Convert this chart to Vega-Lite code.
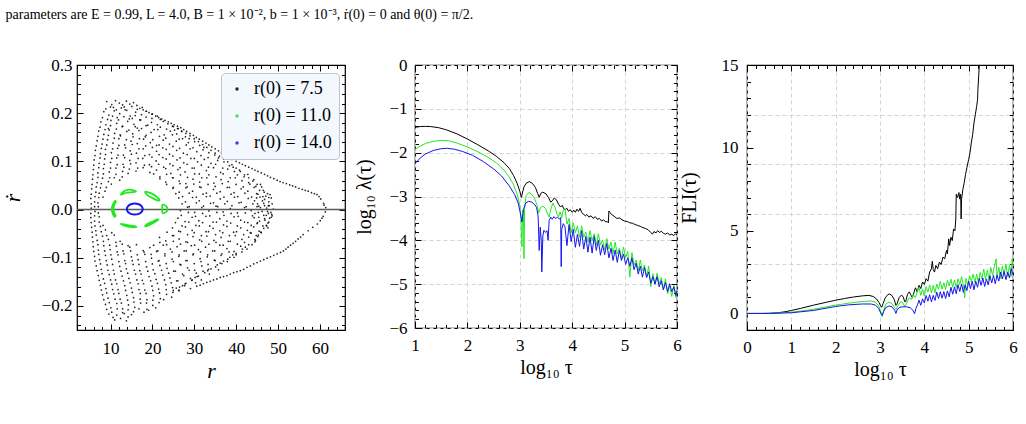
{
  "$schema": "https://vega.github.io/schema/vega-lite/v6.json",
  "padding": {"left": 0, "top": 8, "right": 0, "bottom": 0},
  "title": {
    "text": "parameters are E = 0.99, L = 4.0, B = 1 × 10⁻², b = 1 × 10⁻³, ṙ(0) = 0 and θ(0) = π/2.",
    "anchor": "start",
    "font": "Liberation Serif",
    "fontSize": 14,
    "fontWeight": "normal",
    "color": "black",
    "offset": 33,
    "dx": 5
  },
  "config": {
    "view": {"stroke": "black", "strokeWidth": 1.2},
    "font": "Liberation Serif",
    "axis": {
      "domain": false,
      "grid": false,
      "labelFont": "Liberation Serif",
      "labelFontSize": 17,
      "labelColor": "black",
      "labelFlush": false,
      "labelOverlap": false,
      "titleFont": "Liberation Serif",
      "titleFontSize": 20,
      "titleFontWeight": "normal",
      "titleColor": "black",
      "tickColor": "black",
      "tickWidth": 1,
      "gridColor": "#d4d4d4",
      "gridDash": [4, 3],
      "gridWidth": 1
    }
  },
  "datasets": {
    "sea": [
      {"r":9.1,"v":0.224},{"r":10.3,"v":0.218},{"r":11.2,"v":0.226},{"r":12.1,"v":0.221},{"r":12.9,"v":0.217},{"r":13.8,"v":0.225},{"r":14.6,"v":0.219},{"r":15.5,"v":0.222},{"r":16.3,"v":0.216},{"r":10.7,"v":0.212},{"r":13.3,"v":0.213},
      {"r":8.9,"v":0.209},{"r":10.0,"v":0.213},{"r":11.4,"v":0.207},{"r":12.6,"v":0.211},{"r":13.9,"v":0.206},{"r":15.1,"v":0.214},{"r":16.4,"v":0.208},{"r":17.6,"v":0.212},
      {"r":8.4,"v":0.203},{"r":9.6,"v":0.196},{"r":10.9,"v":0.205},{"r":12.2,"v":0.199},{"r":13.5,"v":0.207},{"r":14.7,"v":0.194},{"r":16.0,"v":0.202},{"r":17.4,"v":0.197},{"r":18.6,"v":0.204},{"r":19.9,"v":0.198},{"r":11.6,"v":0.191},{"r":15.2,"v":0.189},
      {"r":8.1,"v":0.191},{"r":9.3,"v":0.187},{"r":10.5,"v":0.194},{"r":11.9,"v":0.186},{"r":13.2,"v":0.193},{"r":14.5,"v":0.188},{"r":15.9,"v":0.195},{"r":17.2,"v":0.186},{"r":18.5,"v":0.192},{"r":19.9,"v":0.189},{"r":21.2,"v":0.194},{"r":21.9,"v":0.187},
      {"r":7.7,"v":0.182},{"r":8.9,"v":0.176},{"r":10.1,"v":0.185},{"r":11.5,"v":0.179},{"r":12.8,"v":0.172},{"r":14.1,"v":0.183},{"r":15.6,"v":0.177},{"r":17.0,"v":0.186},{"r":18.5,"v":0.174},{"r":19.8,"v":0.181},{"r":21.2,"v":0.176},{"r":22.6,"v":0.183},{"r":23.7,"v":0.178},{"r":9.5,"v":0.168},{"r":16.4,"v":0.169},
      {"r":7.5,"v":0.171},{"r":8.7,"v":0.166},{"r":10.0,"v":0.174},{"r":11.4,"v":0.167},{"r":12.9,"v":0.173},{"r":14.4,"v":0.165},{"r":15.9,"v":0.172},{"r":17.4,"v":0.168},{"r":18.9,"v":0.175},{"r":20.4,"v":0.166},{"r":21.9,"v":0.171},{"r":23.4,"v":0.167},{"r":24.8,"v":0.173},{"r":25.3,"v":0.165},
      {"r":7.2,"v":0.163},{"r":8.4,"v":0.156},{"r":9.7,"v":0.165},{"r":11.0,"v":0.158},{"r":12.4,"v":0.153},{"r":13.9,"v":0.162},{"r":15.3,"v":0.157},{"r":16.8,"v":0.164},{"r":18.3,"v":0.151},{"r":19.7,"v":0.16},{"r":21.3,"v":0.166},{"r":22.8,"v":0.155},{"r":24.3,"v":0.163},{"r":25.8,"v":0.157},{"r":27.0,"v":0.162},{"r":26.2,"v":0.168},
      {"r":7.0,"v":0.152},{"r":8.2,"v":0.146},{"r":9.5,"v":0.154},{"r":10.9,"v":0.148},{"r":12.3,"v":0.155},{"r":13.8,"v":0.145},{"r":15.4,"v":0.151},{"r":16.9,"v":0.147},{"r":18.5,"v":0.154},{"r":20.1,"v":0.145},{"r":21.7,"v":0.152},{"r":23.2,"v":0.148},{"r":24.8,"v":0.155},{"r":26.4,"v":0.146},{"r":27.9,"v":0.151},{"r":28.8,"v":0.147},
      {"r":6.8,"v":0.143},{"r":8.0,"v":0.136},{"r":9.3,"v":0.145},{"r":10.6,"v":0.138},{"r":12.0,"v":0.147},{"r":13.4,"v":0.134},{"r":14.9,"v":0.142},{"r":16.4,"v":0.137},{"r":17.9,"v":0.146},{"r":19.5,"v":0.139},{"r":21.0,"v":0.133},{"r":22.6,"v":0.144},{"r":24.1,"v":0.136},{"r":25.7,"v":0.142},{"r":27.2,"v":0.147},{"r":28.6,"v":0.139},{"r":30.1,"v":0.141},
      {"r":6.6,"v":0.132},{"r":7.8,"v":0.127},{"r":9.1,"v":0.134},{"r":10.5,"v":0.126},{"r":12.0,"v":0.133},{"r":13.6,"v":0.128},{"r":15.2,"v":0.135},{"r":16.8,"v":0.126},{"r":18.4,"v":0.132},{"r":20.0,"v":0.129},{"r":21.6,"v":0.134},{"r":23.3,"v":0.125},{"r":24.9,"v":0.131},{"r":26.5,"v":0.127},{"r":28.1,"v":0.134},{"r":29.7,"v":0.128},{"r":31.3,"v":0.133},{"r":32.3,"v":0.129},
      {"r":6.4,"v":0.123},{"r":7.6,"v":0.116},{"r":8.8,"v":0.125},{"r":10.2,"v":0.118},{"r":11.7,"v":0.127},{"r":13.1,"v":0.113},{"r":14.7,"v":0.122},{"r":16.2,"v":0.117},{"r":17.8,"v":0.126},{"r":19.3,"v":0.114},{"r":21.0,"v":0.121},{"r":22.5,"v":0.128},{"r":24.1,"v":0.115},{"r":25.8,"v":0.123},{"r":27.4,"v":0.117},{"r":29.0,"v":0.126},{"r":30.6,"v":0.12},{"r":32.1,"v":0.124},{"r":33.5,"v":0.118},
      {"r":6.3,"v":0.112},{"r":7.5,"v":0.107},{"r":8.8,"v":0.114},{"r":10.3,"v":0.106},{"r":11.8,"v":0.113},{"r":13.4,"v":0.108},{"r":15.0,"v":0.115},{"r":16.6,"v":0.106},{"r":18.2,"v":0.112},{"r":19.9,"v":0.109},{"r":21.6,"v":0.114},{"r":23.3,"v":0.105},{"r":24.9,"v":0.111},{"r":26.6,"v":0.107},{"r":28.3,"v":0.114},{"r":30.0,"v":0.106},{"r":31.6,"v":0.112},{"r":33.3,"v":0.108},{"r":34.9,"v":0.113},{"r":35.8,"v":0.107},
      {"r":6.1,"v":0.103},{"r":7.3,"v":0.096},{"r":8.6,"v":0.105},{"r":10.0,"v":0.098},{"r":11.5,"v":0.107},{"r":13.0,"v":0.094},{"r":14.6,"v":0.102},{"r":16.1,"v":0.097},{"r":17.7,"v":0.106},{"r":19.3,"v":0.093},{"r":20.9,"v":0.101},{"r":22.5,"v":0.108},{"r":24.2,"v":0.095},{"r":25.9,"v":0.103},{"r":27.5,"v":0.097},{"r":29.2,"v":0.106},{"r":30.8,"v":0.099},{"r":32.4,"v":0.104},{"r":34.0,"v":0.096},{"r":35.6,"v":0.102},{"r":37.1,"v":0.099},
      {"r":6.0,"v":0.092},{"r":7.2,"v":0.087},{"r":8.5,"v":0.094},{"r":10.0,"v":0.086},{"r":11.6,"v":0.093},{"r":13.2,"v":0.088},{"r":14.8,"v":0.095},{"r":16.5,"v":0.086},{"r":18.1,"v":0.092},{"r":19.8,"v":0.089},{"r":21.5,"v":0.094},{"r":23.2,"v":0.085},{"r":24.9,"v":0.091},{"r":26.6,"v":0.087},{"r":28.3,"v":0.094},{"r":30.0,"v":0.086},{"r":31.7,"v":0.092},{"r":33.4,"v":0.088},{"r":35.1,"v":0.094},{"r":36.8,"v":0.086},{"r":38.4,"v":0.091},{"r":39.3,"v":0.088},
      {"r":5.9,"v":0.083},{"r":7.0,"v":0.076},{"r":8.3,"v":0.085},{"r":9.7,"v":0.078},{"r":11.3,"v":0.086},{"r":12.9,"v":0.079},{"r":14.5,"v":0.084},{"r":16.1,"v":0.08},{"r":17.8,"v":0.087},{"r":19.4,"v":0.077},{"r":21.0,"v":0.082},{"r":22.7,"v":0.088},{"r":24.4,"v":0.075},{"r":26.1,"v":0.083},{"r":27.8,"v":0.078},{"r":29.5,"v":0.086},{"r":31.2,"v":0.074},{"r":32.9,"v":0.081},{"r":34.6,"v":0.087},{"r":36.3,"v":0.077},{"r":38.0,"v":0.084},{"r":39.6,"v":0.079},{"r":40.8,"v":0.082},
      {"r":5.8,"v":0.072},{"r":7.0,"v":0.067},{"r":8.3,"v":0.074},{"r":9.8,"v":0.066},{"r":11.3,"v":0.073},{"r":12.8,"v":0.068},{"r":14.2,"v":0.075},{"r":20.3,"v":0.074},{"r":21.8,"v":0.068},{"r":23.4,"v":0.073},{"r":25.0,"v":0.066},{"r":26.7,"v":0.072},{"r":28.4,"v":0.067},{"r":30.1,"v":0.074},{"r":31.8,"v":0.066},{"r":33.5,"v":0.072},{"r":35.2,"v":0.068},{"r":36.9,"v":0.074},{"r":38.6,"v":0.066},{"r":40.3,"v":0.072},{"r":41.9,"v":0.068},{"r":42.8,"v":0.073},
      {"r":5.7,"v":0.063},{"r":6.8,"v":0.056},{"r":8.1,"v":0.065},{"r":9.5,"v":0.058},{"r":10.9,"v":0.066},{"r":12.2,"v":0.061},{"r":21.8,"v":0.064},{"r":23.2,"v":0.057},{"r":24.8,"v":0.066},{"r":26.4,"v":0.059},{"r":28.0,"v":0.054},{"r":29.7,"v":0.063},{"r":31.3,"v":0.057},{"r":33.0,"v":0.066},{"r":34.7,"v":0.055},{"r":36.4,"v":0.062},{"r":38.1,"v":0.058},{"r":39.8,"v":0.066},{"r":41.4,"v":0.06},{"r":43.0,"v":0.056},{"r":44.2,"v":0.062},
      {"r":5.6,"v":0.052},{"r":6.6,"v":0.047},{"r":7.8,"v":0.054},{"r":9.0,"v":0.046},{"r":10.2,"v":0.053},{"r":23.4,"v":0.052},{"r":25.0,"v":0.046},{"r":26.6,"v":0.054},{"r":28.3,"v":0.047},{"r":29.9,"v":0.053},{"r":31.6,"v":0.046},{"r":33.3,"v":0.052},{"r":35.0,"v":0.048},{"r":36.7,"v":0.054},{"r":38.4,"v":0.046},{"r":40.0,"v":0.052},{"r":41.7,"v":0.047},{"r":43.3,"v":0.053},{"r":44.7,"v":0.048},{"r":45.8,"v":0.052},
      {"r":5.5,"v":0.043},{"r":6.5,"v":0.036},{"r":7.6,"v":0.045},{"r":8.7,"v":0.038},{"r":24.9,"v":0.044},{"r":26.4,"v":0.036},{"r":28.0,"v":0.045},{"r":29.6,"v":0.038},{"r":31.3,"v":0.047},{"r":32.9,"v":0.034},{"r":34.6,"v":0.042},{"r":36.2,"v":0.037},{"r":37.9,"v":0.046},{"r":39.5,"v":0.035},{"r":41.2,"v":0.043},{"r":42.8,"v":0.038},{"r":44.3,"v":0.046},{"r":45.6,"v":0.04},{"r":46.7,"v":0.036},{"r":44.9,"v":0.033},{"r":46.1,"v":0.047},
      {"r":5.4,"v":0.032},{"r":6.3,"v":0.027},{"r":7.3,"v":0.034},{"r":8.2,"v":0.026},{"r":25.6,"v":0.033},{"r":27.2,"v":0.027},{"r":28.8,"v":0.034},{"r":30.5,"v":0.026},{"r":32.1,"v":0.032},{"r":33.8,"v":0.028},{"r":35.4,"v":0.034},{"r":37.1,"v":0.026},{"r":38.8,"v":0.032},{"r":40.4,"v":0.027},{"r":42.1,"v":0.034},{"r":43.7,"v":0.026},{"r":45.2,"v":0.032},{"r":46.4,"v":0.027},{"r":47.5,"v":0.033},
      {"r":5.3,"v":0.023},{"r":6.2,"v":0.016},{"r":7.2,"v":0.025},{"r":26.3,"v":0.024},{"r":27.9,"v":0.016},{"r":29.6,"v":0.025},{"r":31.2,"v":0.018},{"r":32.9,"v":0.027},{"r":34.6,"v":0.014},{"r":36.2,"v":0.022},{"r":37.9,"v":0.017},{"r":39.6,"v":0.026},{"r":41.2,"v":0.015},{"r":42.9,"v":0.023},{"r":44.4,"v":0.018},{"r":45.7,"v":0.026},{"r":46.8,"v":0.021},{"r":47.8,"v":0.016},{"r":48.4,"v":0.024},{"r":45.1,"v":0.012},{"r":47.1,"v":0.028},
      {"r":5.4,"v":0.012},{"r":6.2,"v":0.006},{"r":7.0,"v":0.014},{"r":27.1,"v":0.012},{"r":28.8,"v":0.006},{"r":30.5,"v":0.014},{"r":32.2,"v":0.007},{"r":33.9,"v":0.013},{"r":35.6,"v":0.006},{"r":37.3,"v":0.012},{"r":39.0,"v":0.008},{"r":40.7,"v":0.014},{"r":42.4,"v":0.006},{"r":44.0,"v":0.012},{"r":45.4,"v":0.007},{"r":46.6,"v":0.013},{"r":47.7,"v":0.008},{"r":48.6,"v":0.012},
      {"r":5.4,"v":0.003},{"r":6.3,"v":-0.004},{"r":7.1,"v":0.006},{"r":26.7,"v":-0.002},{"r":28.4,"v":0.005},{"r":30.1,"v":-0.006},{"r":31.8,"v":0.004},{"r":33.5,"v":-0.003},{"r":35.2,"v":0.007},{"r":36.9,"v":-0.005},{"r":38.6,"v":0.002},{"r":40.3,"v":-0.007},{"r":42.0,"v":0.004},{"r":43.6,"v":-0.002},{"r":45.0,"v":0.006},{"r":46.2,"v":-0.004},{"r":47.3,"v":0.003},{"r":48.3,"v":-0.006},{"r":48.9,"v":0.001},{"r":44.5,"v":-0.008},{"r":46.8,"v":0.008},
      {"r":5.3,"v":-0.008},{"r":6.2,"v":-0.013},{"r":7.1,"v":-0.007},{"r":26.9,"v":-0.012},{"r":28.6,"v":-0.006},{"r":30.3,"v":-0.014},{"r":32.0,"v":-0.008},{"r":33.7,"v":-0.013},{"r":35.4,"v":-0.006},{"r":37.1,"v":-0.012},{"r":38.8,"v":-0.008},{"r":40.5,"v":-0.014},{"r":42.2,"v":-0.007},{"r":43.9,"v":-0.013},{"r":45.3,"v":-0.006},{"r":46.6,"v":-0.012},{"r":47.7,"v":-0.008},{"r":48.6,"v":-0.013},
      {"r":5.3,"v":-0.017},{"r":6.2,"v":-0.024},{"r":7.3,"v":-0.015},{"r":26.1,"v":-0.018},{"r":27.8,"v":-0.025},{"r":29.5,"v":-0.016},{"r":31.1,"v":-0.023},{"r":32.8,"v":-0.014},{"r":34.5,"v":-0.026},{"r":36.1,"v":-0.019},{"r":37.8,"v":-0.024},{"r":39.5,"v":-0.015},{"r":41.1,"v":-0.022},{"r":42.8,"v":-0.027},{"r":44.3,"v":-0.017},{"r":45.6,"v":-0.024},{"r":46.8,"v":-0.019},{"r":47.8,"v":-0.026},{"r":48.4,"v":-0.016},{"r":45.0,"v":-0.029},{"r":47.2,"v":-0.012},
      {"r":5.4,"v":-0.027},{"r":6.3,"v":-0.034},{"r":7.3,"v":-0.026},{"r":8.2,"v":-0.033},{"r":25.5,"v":-0.027},{"r":27.1,"v":-0.034},{"r":28.7,"v":-0.026},{"r":30.4,"v":-0.033},{"r":32.0,"v":-0.027},{"r":33.7,"v":-0.034},{"r":35.3,"v":-0.026},{"r":37.0,"v":-0.032},{"r":38.7,"v":-0.028},{"r":40.3,"v":-0.034},{"r":42.0,"v":-0.026},{"r":43.6,"v":-0.033},{"r":45.1,"v":-0.027},{"r":46.4,"v":-0.034},{"r":47.6,"v":-0.028},
      {"r":5.5,"v":-0.037},{"r":6.5,"v":-0.044},{"r":7.6,"v":-0.035},{"r":8.8,"v":-0.042},{"r":24.8,"v":-0.038},{"r":26.3,"v":-0.045},{"r":27.9,"v":-0.036},{"r":29.5,"v":-0.043},{"r":31.2,"v":-0.034},{"r":32.8,"v":-0.046},{"r":34.5,"v":-0.039},{"r":36.1,"v":-0.044},{"r":37.8,"v":-0.035},{"r":39.4,"v":-0.047},{"r":41.1,"v":-0.038},{"r":42.7,"v":-0.043},{"r":44.2,"v":-0.036},{"r":45.5,"v":-0.045},{"r":46.6,"v":-0.039},{"r":47.3,"v":-0.034},{"r":43.6,"v":-0.049},
      {"r":5.6,"v":-0.047},{"r":6.6,"v":-0.053},{"r":7.8,"v":-0.046},{"r":9.1,"v":-0.054},{"r":10.3,"v":-0.048},{"r":23.5,"v":-0.047},{"r":25.1,"v":-0.054},{"r":26.7,"v":-0.046},{"r":28.4,"v":-0.052},{"r":30.0,"v":-0.048},{"r":31.7,"v":-0.054},{"r":33.4,"v":-0.046},{"r":35.1,"v":-0.052},{"r":36.8,"v":-0.048},{"r":38.4,"v":-0.054},{"r":40.1,"v":-0.046},{"r":41.8,"v":-0.052},{"r":43.4,"v":-0.048},{"r":44.8,"v":-0.054},{"r":45.9,"v":-0.047},
      {"r":5.7,"v":-0.057},{"r":6.8,"v":-0.064},{"r":8.1,"v":-0.055},{"r":9.5,"v":-0.062},{"r":10.9,"v":-0.053},{"r":12.3,"v":-0.066},{"r":21.7,"v":-0.058},{"r":23.2,"v":-0.065},{"r":24.8,"v":-0.054},{"r":26.4,"v":-0.061},{"r":28.0,"v":-0.067},{"r":29.7,"v":-0.056},{"r":31.3,"v":-0.063},{"r":33.0,"v":-0.055},{"r":34.7,"v":-0.064},{"r":36.4,"v":-0.058},{"r":38.1,"v":-0.066},{"r":39.8,"v":-0.054},{"r":41.4,"v":-0.062},{"r":43.0,"v":-0.057},{"r":44.6,"v":-0.064},{"r":45.3,"v":-0.053},
      {"r":5.8,"v":-0.067},{"r":7.0,"v":-0.073},{"r":8.3,"v":-0.066},{"r":9.8,"v":-0.074},{"r":11.3,"v":-0.068},{"r":12.8,"v":-0.072},{"r":14.2,"v":-0.075},{"r":20.3,"v":-0.074},{"r":21.8,"v":-0.068},{"r":23.4,"v":-0.073},{"r":25.0,"v":-0.066},{"r":26.7,"v":-0.072},{"r":28.4,"v":-0.068},{"r":30.1,"v":-0.074},{"r":31.8,"v":-0.066},{"r":33.5,"v":-0.072},{"r":35.2,"v":-0.068},{"r":36.9,"v":-0.074},{"r":38.6,"v":-0.066},{"r":40.3,"v":-0.072},{"r":42.0,"v":-0.068},{"r":43.8,"v":-0.073},{"r":44.5,"v":-0.067},
      {"r":5.9,"v":-0.077},{"r":7.1,"v":-0.084},{"r":8.4,"v":-0.075},{"r":9.9,"v":-0.083},{"r":11.4,"v":-0.076},{"r":13.0,"v":-0.086},{"r":14.6,"v":-0.078},{"r":16.2,"v":-0.073},{"r":17.8,"v":-0.085},{"r":19.4,"v":-0.079},{"r":21.0,"v":-0.087},{"r":22.6,"v":-0.074},{"r":24.3,"v":-0.082},{"r":25.9,"v":-0.077},{"r":27.6,"v":-0.086},{"r":29.3,"v":-0.075},{"r":31.0,"v":-0.083},{"r":32.7,"v":-0.078},{"r":34.4,"v":-0.086},{"r":36.1,"v":-0.074},{"r":37.8,"v":-0.081},{"r":39.5,"v":-0.087},{"r":41.1,"v":-0.076},{"r":42.6,"v":-0.082},
      {"r":6.0,"v":-0.087},{"r":7.2,"v":-0.093},{"r":8.6,"v":-0.086},{"r":10.1,"v":-0.094},{"r":11.6,"v":-0.088},{"r":13.2,"v":-0.092},{"r":14.8,"v":-0.086},{"r":16.4,"v":-0.094},{"r":18.0,"v":-0.088},{"r":19.7,"v":-0.093},{"r":21.3,"v":-0.086},{"r":23.0,"v":-0.092},{"r":24.7,"v":-0.088},{"r":26.4,"v":-0.094},{"r":28.1,"v":-0.086},{"r":29.8,"v":-0.092},{"r":31.5,"v":-0.088},{"r":33.2,"v":-0.094},{"r":34.9,"v":-0.086},{"r":36.6,"v":-0.092},{"r":38.3,"v":-0.088},{"r":40.0,"v":-0.094},{"r":41.4,"v":-0.088},
      {"r":6.2,"v":-0.097},{"r":7.4,"v":-0.104},{"r":8.8,"v":-0.095},{"r":10.3,"v":-0.103},{"r":11.8,"v":-0.094},{"r":13.4,"v":-0.106},{"r":15.0,"v":-0.098},{"r":16.6,"v":-0.104},{"r":18.2,"v":-0.093},{"r":19.8,"v":-0.101},{"r":21.4,"v":-0.107},{"r":23.0,"v":-0.096},{"r":24.7,"v":-0.103},{"r":26.3,"v":-0.097},{"r":28.0,"v":-0.106},{"r":29.7,"v":-0.094},{"r":31.4,"v":-0.102},{"r":33.1,"v":-0.098},{"r":34.8,"v":-0.105},{"r":36.4,"v":-0.095},{"r":38.0,"v":-0.103},{"r":39.5,"v":-0.099},
      {"r":6.3,"v":-0.107},{"r":7.6,"v":-0.113},{"r":9.0,"v":-0.106},{"r":10.5,"v":-0.114},{"r":12.0,"v":-0.108},{"r":13.6,"v":-0.112},{"r":15.2,"v":-0.106},{"r":16.8,"v":-0.114},{"r":18.4,"v":-0.108},{"r":20.0,"v":-0.113},{"r":21.6,"v":-0.106},{"r":23.3,"v":-0.112},{"r":25.0,"v":-0.108},{"r":26.6,"v":-0.114},{"r":28.3,"v":-0.106},{"r":30.0,"v":-0.112},{"r":31.6,"v":-0.108},{"r":33.3,"v":-0.114},{"r":35.0,"v":-0.106},{"r":36.6,"v":-0.112},{"r":37.9,"v":-0.108},
      {"r":6.6,"v":-0.117},{"r":7.8,"v":-0.124},{"r":9.2,"v":-0.115},{"r":10.7,"v":-0.126},{"r":12.2,"v":-0.118},{"r":13.8,"v":-0.123},{"r":15.4,"v":-0.114},{"r":17.0,"v":-0.127},{"r":18.6,"v":-0.119},{"r":20.2,"v":-0.125},{"r":21.8,"v":-0.116},{"r":23.5,"v":-0.122},{"r":25.1,"v":-0.128},{"r":26.8,"v":-0.115},{"r":28.4,"v":-0.121},{"r":30.1,"v":-0.126},{"r":31.8,"v":-0.117},{"r":33.4,"v":-0.124},{"r":35.1,"v":-0.119},{"r":35.8,"v":-0.125},
      {"r":6.8,"v":-0.127},{"r":8.0,"v":-0.133},{"r":9.4,"v":-0.126},{"r":10.9,"v":-0.134},{"r":12.5,"v":-0.128},{"r":14.1,"v":-0.132},{"r":15.7,"v":-0.126},{"r":17.3,"v":-0.134},{"r":18.9,"v":-0.128},{"r":20.6,"v":-0.133},{"r":22.2,"v":-0.126},{"r":23.9,"v":-0.132},{"r":25.5,"v":-0.128},{"r":27.2,"v":-0.134},{"r":28.8,"v":-0.126},{"r":30.5,"v":-0.132},{"r":32.1,"v":-0.128},{"r":33.6,"v":-0.134},
      {"r":7.1,"v":-0.137},{"r":8.3,"v":-0.144},{"r":9.7,"v":-0.135},{"r":11.2,"v":-0.146},{"r":12.8,"v":-0.138},{"r":14.4,"v":-0.143},{"r":16.0,"v":-0.134},{"r":17.6,"v":-0.147},{"r":19.2,"v":-0.139},{"r":20.9,"v":-0.145},{"r":22.5,"v":-0.136},{"r":24.2,"v":-0.142},{"r":25.8,"v":-0.148},{"r":27.5,"v":-0.137},{"r":29.1,"v":-0.143},{"r":30.7,"v":-0.139},{"r":31.7,"v":-0.146},
      {"r":7.3,"v":-0.147},{"r":8.6,"v":-0.153},{"r":10.0,"v":-0.146},{"r":11.5,"v":-0.154},{"r":13.1,"v":-0.148},{"r":14.7,"v":-0.152},{"r":16.3,"v":-0.146},{"r":17.9,"v":-0.154},{"r":19.6,"v":-0.148},{"r":21.2,"v":-0.153},{"r":22.9,"v":-0.146},{"r":24.5,"v":-0.152},{"r":26.1,"v":-0.148},{"r":27.8,"v":-0.154},{"r":29.4,"v":-0.147},{"r":30.3,"v":-0.152},
      {"r":7.6,"v":-0.157},{"r":8.9,"v":-0.164},{"r":10.3,"v":-0.155},{"r":11.8,"v":-0.166},{"r":13.4,"v":-0.158},{"r":15.0,"v":-0.163},{"r":16.6,"v":-0.154},{"r":18.2,"v":-0.167},{"r":19.9,"v":-0.159},{"r":21.5,"v":-0.165},{"r":23.2,"v":-0.156},{"r":24.8,"v":-0.162},{"r":26.4,"v":-0.168},{"r":27.7,"v":-0.158},
      {"r":7.8,"v":-0.167},{"r":9.1,"v":-0.173},{"r":10.5,"v":-0.166},{"r":12.0,"v":-0.174},{"r":13.6,"v":-0.168},{"r":15.2,"v":-0.172},{"r":16.8,"v":-0.166},{"r":18.5,"v":-0.174},{"r":20.1,"v":-0.168},{"r":21.7,"v":-0.173},{"r":23.3,"v":-0.166},{"r":24.9,"v":-0.172},{"r":26.3,"v":-0.168},
      {"r":8.1,"v":-0.177},{"r":9.4,"v":-0.184},{"r":10.8,"v":-0.175},{"r":12.3,"v":-0.186},{"r":13.9,"v":-0.178},{"r":15.5,"v":-0.183},{"r":17.1,"v":-0.174},{"r":18.7,"v":-0.187},{"r":20.3,"v":-0.179},{"r":21.9,"v":-0.185},{"r":23.4,"v":-0.176},{"r":24.6,"v":-0.182},
      {"r":8.4,"v":-0.187},{"r":9.7,"v":-0.193},{"r":11.1,"v":-0.186},{"r":12.6,"v":-0.194},{"r":14.1,"v":-0.188},{"r":15.6,"v":-0.192},{"r":17.1,"v":-0.186},{"r":18.6,"v":-0.194},{"r":20.1,"v":-0.188},{"r":21.6,"v":-0.193},{"r":22.7,"v":-0.187},
      {"r":8.8,"v":-0.197},{"r":10.1,"v":-0.204},{"r":11.5,"v":-0.195},{"r":12.9,"v":-0.206},{"r":14.3,"v":-0.198},{"r":15.8,"v":-0.203},{"r":17.2,"v":-0.194},{"r":18.7,"v":-0.207},{"r":20.1,"v":-0.199},{"r":20.8,"v":-0.204},
      {"r":9.1,"v":-0.207},{"r":10.3,"v":-0.213},{"r":11.6,"v":-0.206},{"r":12.9,"v":-0.214},{"r":14.2,"v":-0.208},{"r":15.5,"v":-0.212},{"r":16.8,"v":-0.206},{"r":18.0,"v":-0.213},{"r":19.1,"v":-0.209},
      {"r":9.6,"v":-0.217},{"r":10.6,"v":-0.224},{"r":11.5,"v":-0.219},{"r":12.4,"v":-0.226},{"r":13.3,"v":-0.216},{"r":14.2,"v":-0.223},{"r":15.0,"v":-0.218},{"r":11.0,"v":-0.229},{"r":13.8,"v":-0.231},
      {"r":17,"v":0.21},{"r":18.5,"v":0.204},{"r":20,"v":0.198},{"r":21.5,"v":0.191},{"r":23,"v":0.185},{"r":24.5,"v":0.179},{"r":26,"v":0.173},{"r":27.5,"v":0.166},{"r":29,"v":0.158},{"r":30.5,"v":0.15},{"r":32,"v":0.142},{"r":33.5,"v":0.134},{"r":35,"v":0.126},{"r":36.5,"v":0.118},{"r":38,"v":0.109},{"r":40,"v":0.1},{"r":41.5,"v":0.094},{"r":43,"v":0.088},{"r":44.5,"v":0.082},{"r":46,"v":0.076},{"r":47.5,"v":0.07},{"r":49,"v":0.064},{"r":50.5,"v":0.058},{"r":52,"v":0.054},{"r":53.5,"v":0.049},{"r":55,"v":0.044},{"r":56.5,"v":0.04},{"r":58,"v":0.035},{"r":59.3,"v":0.031},{"r":60.2,"v":0.022},{"r":60.9,"v":0.013},{"r":61.4,"v":0.004},{"r":61.3,"v":-0.005},{"r":60.8,"v":-0.014},{"r":60.1,"v":-0.023},{"r":59.4,"v":-0.03},{"r":58.3,"v":-0.037},{"r":57.2,"v":-0.044},{"r":56,"v":-0.052},{"r":54.8,"v":-0.061},{"r":53.6,"v":-0.07},{"r":52.4,"v":-0.078},{"r":51.3,"v":-0.086},{"r":49.8,"v":-0.092},{"r":48.2,"v":-0.098},{"r":46.6,"v":-0.104},{"r":45,"v":-0.11},{"r":43.4,"v":-0.117},{"r":41.8,"v":-0.124},{"r":40.2,"v":-0.129},{"r":38.6,"v":-0.134},{"r":37,"v":-0.139},{"r":35.4,"v":-0.144},{"r":33.8,"v":-0.149},{"r":32.2,"v":-0.154},{"r":30.6,"v":-0.159},{"r":29.1,"v":-0.164},{"r":61.0,"v":0.009},{"r":60.5,"v":-0.018},{"r":59.8,"v":0.027},
      {"r":17.8,"v":0.207},{"r":19.2,"v":0.201},{"r":20.8,"v":0.194},{"r":22.2,"v":0.188},{"r":23.8,"v":0.182},{"r":25.2,"v":0.176},{"r":26.8,"v":0.17},{"r":28.2,"v":0.162},{"r":29.8,"v":0.154},{"r":31.2,"v":0.146},{"r":32.8,"v":0.138},{"r":34.2,"v":0.13},{"r":35.8,"v":0.122},{"r":37.2,"v":0.114},{"r":39,"v":0.104},{"r":40.8,"v":0.097},{"r":42.2,"v":0.091},{"r":43.8,"v":0.085},{"r":45.2,"v":0.079},{"r":46.8,"v":0.073},{"r":48.2,"v":0.067},{"r":49.8,"v":0.061},{"r":51.2,"v":0.056},{"r":52.8,"v":0.051},{"r":54.2,"v":0.047},{"r":55.8,"v":0.042},{"r":57.2,"v":0.038},{"r":58.7,"v":0.033},{"r":55.4,"v":-0.057},{"r":54.2,"v":-0.066},{"r":53,"v":-0.074},{"r":51.9,"v":-0.082},{"r":50.6,"v":-0.089},{"r":49,"v":-0.095},{"r":47.4,"v":-0.101},{"r":45.8,"v":-0.107},{"r":44.2,"v":-0.113},{"r":42.6,"v":-0.12},{"r":41,"v":-0.127},{"r":39.4,"v":-0.131},{"r":37.8,"v":-0.137},{"r":36.2,"v":-0.141},{"r":34.6,"v":-0.146},{"r":33,"v":-0.151},{"r":31.4,"v":-0.157},
      {"r":25,"v":-0.168},{"r":26.5,"v":-0.161},{"r":28,"v":-0.153},{"r":29.5,"v":-0.146},{"r":31,"v":-0.138},{"r":32.5,"v":-0.131},{"r":34,"v":-0.123},{"r":35.5,"v":-0.115},{"r":37,"v":-0.107},{"r":38.5,"v":-0.099},{"r":40,"v":-0.091},{"r":41.5,"v":-0.082},{"r":43,"v":-0.073},{"r":44.5,"v":-0.062},{"r":46,"v":-0.048},{"r":47.2,"v":-0.033},{"r":48,"v":-0.018},{"r":25.7,"v":-0.163},{"r":27.2,"v":-0.158},{"r":30.2,"v":-0.141},{"r":33.2,"v":-0.127},{"r":36.2,"v":-0.111},{"r":39.2,"v":-0.094},{"r":42.2,"v":-0.078},{"r":45.2,"v":-0.056},
      {"r":25,"v":0.172},{"r":27,"v":0.163},{"r":29,"v":0.153},{"r":31,"v":0.141},{"r":33,"v":0.129},{"r":35,"v":0.117},{"r":37,"v":0.105},{"r":39,"v":0.093},{"r":41,"v":0.079},{"r":43,"v":0.066},{"r":45,"v":0.052},{"r":46.5,"v":0.04},{"r":47.8,"v":0.025},{"r":26,"v":0.168},{"r":28,"v":0.158},{"r":30,"v":0.147},{"r":32,"v":0.135},{"r":34,"v":0.123},{"r":36,"v":0.111},{"r":38,"v":0.099},{"r":40,"v":0.086},{"r":42,"v":0.072},{"r":44,"v":0.059},
      {"r":47.9,"v":0.008},{"r":48.5,"v":-0.01},{"r":47.5,"v":-0.004},{"r":46.3,"v":0.018},{"r":46.9,"v":-0.022},{"r":45.8,"v":0.004},{"r":48.1,"v":0.031},{"r":47.6,"v":-0.038},{"r":44.9,"v":0.024},{"r":45.4,"v":-0.016}
    ],
    "isl": [
      {"k":"A","r":11.1,"v":0.018},{"k":"A","r":10.6,"v":0.011},{"k":"A","r":10.3,"v":0.002},{"k":"A","r":10.5,"v":-0.008},{"k":"A","r":11.0,"v":-0.015},{"k":"A","r":11.2,"v":-0.012},{"k":"A","r":10.85,"v":-0.006},{"k":"A","r":10.75,"v":0.002},{"k":"A","r":10.9,"v":0.01},{"k":"A","r":11.25,"v":0.016},
      {"k":"B","r":12.5,"v":0.031},{"k":"B","r":13.2,"v":0.038},{"k":"B","r":14.1,"v":0.041},{"k":"B","r":15.1,"v":0.041},{"k":"B","r":16.1,"v":0.037},{"k":"B","r":15.0,"v":0.036},{"k":"B","r":14.0,"v":0.035},{"k":"B","r":13.1,"v":0.033},
      {"k":"C","r":18.3,"v":0.037},{"k":"C","r":19.6,"v":0.034},{"k":"C","r":20.8,"v":0.028},{"k":"C","r":21.7,"v":0.02},{"k":"C","r":21.2,"v":0.019},{"k":"C","r":20.0,"v":0.024},{"k":"C","r":18.8,"v":0.03},
      {"k":"D","r":22.4,"v":0.01},{"k":"D","r":23.0,"v":0.009},{"k":"D","r":23.5,"v":0.005},{"k":"D","r":23.6,"v":0.001},{"k":"D","r":23.4,"v":-0.004},{"k":"D","r":22.9,"v":-0.007},{"k":"D","r":22.4,"v":-0.007},{"k":"D","r":22.35,"v":0.002},
      {"k":"E","r":21.4,"v":-0.021},{"k":"E","r":20.4,"v":-0.027},{"k":"E","r":19.3,"v":-0.032},{"k":"E","r":18.3,"v":-0.035},{"k":"E","r":18.6,"v":-0.031},{"k":"E","r":19.8,"v":-0.026},{"k":"E","r":21.0,"v":-0.021},
      {"k":"F","r":12.5,"v":-0.03},{"k":"F","r":13.5,"v":-0.034},{"k":"F","r":14.5,"v":-0.036},{"k":"F","r":15.5,"v":-0.037},{"k":"F","r":16.2,"v":-0.036},{"k":"F","r":15.4,"v":-0.034},{"k":"F","r":14.4,"v":-0.033},{"k":"F","r":13.4,"v":-0.031}
    ],
    "ell": [
      {"r":17.7,"v":0.001},{"r":17.45,"v":0.0068},{"r":16.75,"v":0.011},{"r":15.8,"v":0.0125},{"r":14.85,"v":0.011},{"r":14.15,"v":0.0068},{"r":13.9,"v":0.001},{"r":14.15,"v":-0.0048},{"r":14.85,"v":-0.009},{"r":15.8,"v":-0.0105},{"r":16.75,"v":-0.009},{"r":17.45,"v":-0.0048}
    ],
    "zero": [{"v": 0}],
    "h1": [{"r": 2, "v": 0}],
    "k2": [
      {"t":1.0,"y":-1.42},{"t":1.1,"y":-1.405},{"t":1.2,"y":-1.4},{"t":1.3,"y":-1.405},{"t":1.45,"y":-1.43},{"t":1.6,"y":-1.48},{"t":1.8,"y":-1.57},{"t":2.0,"y":-1.69},{"t":2.2,"y":-1.82},{"t":2.4,"y":-1.96},{"t":2.55,"y":-2.08},{"t":2.7,"y":-2.23},{"t":2.8,"y":-2.36},{"t":2.88,"y":-2.52},{"t":2.95,"y":-2.7},{"t":3.0,"y":-2.88},{"t":3.03,"y":-3.02},{"t":3.05,"y":-2.92},{"t":3.08,"y":-2.78},{"t":3.12,"y":-2.7},{"t":3.18,"y":-2.66},{"t":3.24,"y":-2.7},{"t":3.3,"y":-2.8},{"t":3.34,"y":-2.93},{"t":3.37,"y":-3.02},{"t":3.4,"y":-2.93},{"t":3.44,"y":-2.9},{"t":3.5,"y":-2.94},{"t":3.55,"y":-3.03},{"t":3.59,"y":-3.13},{"t":3.62,"y":-3.1},{"t":3.66,"y":-3.03},{"t":3.7,"y":-3.08},{"t":3.74,"y":-3.18},{"t":3.78,"y":-3.24},{"t":3.81,"y":-3.2},{"t":3.84,"y":-3.28},{"t":3.87,"y":-3.3},{"t":3.9,"y":-3.27},{"t":3.93,"y":-3.34},{"t":3.96,"y":-3.3},{"t":4.0,"y":-3.36},{"t":4.03,"y":-3.31},{"t":4.06,"y":-3.36},{"t":4.09,"y":-3.29},{"t":4.12,"y":-3.34},{"t":4.15,"y":-3.27},{"t":4.18,"y":-3.36},{"t":4.21,"y":-3.4},{"t":4.25,"y":-3.44},{"t":4.28,"y":-3.41},{"t":4.32,"y":-3.47},{"t":4.36,"y":-3.44},{"t":4.4,"y":-3.5},{"t":4.44,"y":-3.46},{"t":4.48,"y":-3.52},{"t":4.52,"y":-3.5},{"t":4.56,"y":-3.56},{"t":4.6,"y":-3.53},{"t":4.64,"y":-3.58},{"t":4.67,"y":-3.57},{"t":4.69,"y":-3.6},{"t":4.7,"y":-3.33},{"t":4.72,"y":-3.36},{"t":4.75,"y":-3.41},{"t":4.8,"y":-3.45},{"t":4.85,"y":-3.5},{"t":4.9,"y":-3.49},{"t":4.95,"y":-3.53},{"t":5.0,"y":-3.56},{"t":5.05,"y":-3.57},{"t":5.1,"y":-3.6},{"t":5.15,"y":-3.61},{"t":5.2,"y":-3.64},{"t":5.25,"y":-3.66},{"t":5.3,"y":-3.68},{"t":5.35,"y":-3.71},{"t":5.4,"y":-3.73},{"t":5.45,"y":-3.76},{"t":5.5,"y":-3.82},{"t":5.53,"y":-3.86},{"t":5.56,"y":-3.8},{"t":5.6,"y":-3.83},{"t":5.63,"y":-3.78},{"t":5.67,"y":-3.82},{"t":5.7,"y":-3.79},{"t":5.74,"y":-3.84},{"t":5.78,"y":-3.86},{"t":5.82,"y":-3.83},{"t":5.86,"y":-3.88},{"t":5.9,"y":-3.86},{"t":5.94,"y":-3.89},{"t":5.97,"y":-3.85},{"t":6.0,"y":-3.87}
    ],
    "g2": [
      {"t":1.0,"y":-1.92},{"t":1.1,"y":-1.85},{"t":1.2,"y":-1.79},{"t":1.35,"y":-1.74},{"t":1.5,"y":-1.72},{"t":1.65,"y":-1.73},{"t":1.8,"y":-1.78},{"t":2.0,"y":-1.87},{"t":2.2,"y":-1.98},{"t":2.4,"y":-2.11},{"t":2.55,"y":-2.23},{"t":2.7,"y":-2.4},{"t":2.8,"y":-2.56},{"t":2.88,"y":-2.73},{"t":2.95,"y":-2.95},{"t":3.0,"y":-3.2},{"t":3.02,"y":-3.45},{"t":3.04,"y":-4.15},{"t":3.05,"y":-3.5},{"t":3.06,"y":-3.3},{"t":3.07,"y":-3.45},{"t":3.08,"y":-4.42},{"t":3.09,"y":-3.3},{"t":3.12,"y":-2.98},{"t":3.17,"y":-2.91},{"t":3.22,"y":-2.94},{"t":3.28,"y":-3.04},{"t":3.33,"y":-3.2},{"t":3.36,"y":-3.38},{"t":3.39,"y":-3.26},{"t":3.44,"y":-3.22},{"t":3.49,"y":-3.27},{"t":3.53,"y":-3.4},{"t":3.56,"y":-3.47},{"t":3.59,"y":-3.3},{"t":3.63,"y":-3.15},{"t":3.67,"y":-3.24},{"t":3.71,"y":-3.4},{"t":3.74,"y":-3.46},{"t":3.77,"y":-3.35},{"t":3.8,"y":-3.48},{"t":3.83,"y":-3.3},
      {"t":3.86,"y":-3.27},{"t":3.9,"y":-3.63},{"t":3.94,"y":-3.5},{"t":3.98,"y":-3.83},{"t":4.02,"y":-3.6},{"t":4.06,"y":-3.83},{"t":4.1,"y":-3.67},{"t":4.14,"y":-3.93},{"t":4.18,"y":-3.67},{"t":4.22,"y":-3.93},{"t":4.26,"y":-3.81},{"t":4.3,"y":-4.04},{"t":4.34,"y":-3.78},{"t":4.38,"y":-4.01},{"t":4.42,"y":-3.85},{"t":4.46,"y":-4.11},{"t":4.5,"y":-3.85},{"t":4.54,"y":-4.11},{"t":4.58,"y":-3.99},{"t":4.62,"y":-4.22},{"t":4.66,"y":-3.96},{"t":4.7,"y":-4.2},{"t":4.74,"y":-4.04},{"t":4.78,"y":-4.3},{"t":4.82,"y":-4.04},{"t":4.86,"y":-4.31},{"t":4.9,"y":-4.18},{"t":4.94,"y":-4.41},{"t":4.98,"y":-4.15},{"t":5.02,"y":-4.4},{"t":5.06,"y":-4.25},{"t":5.1,"y":-4.84},{"t":5.14,"y":-4.28},{"t":5.18,"y":-4.56},{"t":5.22,"y":-4.45},{"t":5.26,"y":-4.7},{"t":5.3,"y":-4.45},{"t":5.34,"y":-4.7},{"t":5.38,"y":-4.56},{"t":5.42,"y":-4.84},{"t":5.46,"y":-4.59},{"t":5.5,"y":-5.06},{"t":5.54,"y":-4.76},{"t":5.58,"y":-5.0},{"t":5.62,"y":-4.75},{"t":5.66,"y":-5.0},{"t":5.7,"y":-4.85},{"t":5.74,"y":-5.13},{"t":5.78,"y":-4.88},{"t":5.82,"y":-5.22},{"t":5.86,"y":-5.04},{"t":5.9,"y":-5.28},{"t":5.94,"y":-5.03},{"t":5.98,"y":-5.3},{"t":6.0,"y":-5.15}
    ],
    "b2": [
      {"t":1.0,"y":-2.25},{"t":1.1,"y":-2.12},{"t":1.2,"y":-2.03},{"t":1.35,"y":-1.95},{"t":1.5,"y":-1.91},{"t":1.6,"y":-1.9},{"t":1.75,"y":-1.92},{"t":1.9,"y":-1.97},{"t":2.1,"y":-2.06},{"t":2.3,"y":-2.2},{"t":2.5,"y":-2.37},{"t":2.65,"y":-2.53},{"t":2.8,"y":-2.76},{"t":2.9,"y":-2.95},{"t":2.97,"y":-3.15},{"t":3.01,"y":-3.38},{"t":3.04,"y":-3.58},{"t":3.07,"y":-3.3},{"t":3.11,"y":-3.15},{"t":3.17,"y":-3.11},{"t":3.23,"y":-3.13},{"t":3.28,"y":-3.18},{"t":3.32,"y":-3.25},{"t":3.35,"y":-3.45},{"t":3.37,"y":-4.23},{"t":3.39,"y":-3.7},{"t":3.41,"y":-4.0},{"t":3.42,"y":-4.72},{"t":3.44,"y":-3.9},{"t":3.46,"y":-3.77},{"t":3.49,"y":-3.82},{"t":3.52,"y":-3.78},{"t":3.54,"y":-4.0},{"t":3.56,"y":-3.55},{"t":3.59,"y":-3.47},{"t":3.62,"y":-3.52},{"t":3.65,"y":-3.46},{"t":3.68,"y":-3.5},{"t":3.72,"y":-3.47},{"t":3.76,"y":-3.52},{"t":3.78,"y":-3.48},{"t":3.79,"y":-4.6},{"t":3.8,"y":-3.75},{"t":3.83,"y":-3.62},
      {"t":3.86,"y":-3.68},{"t":3.9,"y":-4.12},{"t":3.94,"y":-3.64},{"t":3.98,"y":-4.03},{"t":4.02,"y":-3.75},{"t":4.06,"y":-4.16},{"t":4.1,"y":-3.86},{"t":4.14,"y":-4.14},{"t":4.18,"y":-3.78},{"t":4.22,"y":-4.2},{"t":4.26,"y":-3.91},{"t":4.3,"y":-4.27},{"t":4.34,"y":-3.93},{"t":4.38,"y":-4.29},{"t":4.42,"y":-3.91},{"t":4.46,"y":-4.23},{"t":4.5,"y":-4.0},{"t":4.54,"y":-4.34},{"t":4.58,"y":-4.1},{"t":4.62,"y":-4.33},{"t":4.66,"y":-4.07},{"t":4.7,"y":-4.4},{"t":4.74,"y":-4.18},{"t":4.78,"y":-4.46},{"t":4.82,"y":-4.22},{"t":4.86,"y":-4.5},{"t":4.9,"y":-4.23},{"t":4.94,"y":-4.46},{"t":4.98,"y":-4.31},{"t":5.02,"y":-4.55},{"t":5.06,"y":-4.4},{"t":5.1,"y":-4.59},{"t":5.14,"y":-4.4},{"t":5.18,"y":-4.67},{"t":5.22,"y":-4.52},{"t":5.26,"y":-4.77},{"t":5.3,"y":-4.59},{"t":5.34,"y":-4.84},{"t":5.38,"y":-4.62},{"t":5.42,"y":-4.85},{"t":5.46,"y":-4.72},{"t":5.5,"y":-4.98},{"t":5.54,"y":-4.83},{"t":5.58,"y":-5.0},{"t":5.62,"y":-4.83},{"t":5.66,"y":-5.06},{"t":5.7,"y":-4.92},{"t":5.74,"y":-5.13},{"t":5.78,"y":-4.96},{"t":5.82,"y":-5.17},{"t":5.86,"y":-4.99},{"t":5.9,"y":-5.17},{"t":5.94,"y":-5.06},{"t":5.98,"y":-5.26},{"t":6.0,"y":-5.15}
    ],
    "h2": [{"t": 1, "y": 0}],
    "k3": [
      {"t":0,"y":0},{"t":0.3,"y":0},{"t":0.5,"y":0.01},{"t":0.7,"y":0.04},{"t":0.9,"y":0.12},{"t":1.0,"y":0.18},{"t":1.2,"y":0.3},{"t":1.5,"y":0.5},{"t":1.8,"y":0.68},{"t":2.0,"y":0.8},{"t":2.2,"y":0.9},{"t":2.4,"y":0.99},{"t":2.6,"y":1.06},{"t":2.75,"y":1.09},{"t":2.85,"y":1.02},{"t":2.92,"y":0.88},{"t":2.98,"y":0.65},{"t":3.02,"y":0.42},{"t":3.04,"y":0.38},{"t":3.07,"y":0.6},{"t":3.12,"y":0.95},{"t":3.18,"y":1.15},{"t":3.22,"y":1.17},{"t":3.27,"y":1.08},{"t":3.32,"y":0.85},{"t":3.36,"y":0.48},{"t":3.38,"y":0.55},{"t":3.43,"y":0.95},{"t":3.48,"y":1.1},{"t":3.52,"y":1.02},{"t":3.56,"y":0.7},{"t":3.58,"y":0.72},{"t":3.62,"y":1.15},{"t":3.66,"y":1.3},{"t":3.7,"y":1.1},{"t":3.73,"y":0.95},{"t":3.77,"y":1.3},{"t":3.8,"y":1.55},{"t":3.84,"y":1.3},{"t":3.88,"y":1.7},{"t":3.92,"y":1.5},{"t":3.96,"y":1.9},{"t":4.0,"y":1.75},{"t":4.04,"y":2.1},{"t":4.08,"y":1.95},{"t":4.12,"y":2.5},{"t":4.16,"y":2.7},{"t":4.18,"y":3.15},{"t":4.2,"y":2.65},{"t":4.23,"y":2.5},{"t":4.26,"y":2.9},{"t":4.3,"y":2.7},{"t":4.34,"y":3.1},{"t":4.38,"y":2.95},{"t":4.42,"y":3.4},{"t":4.46,"y":3.3},{"t":4.5,"y":3.8},{"t":4.52,"y":3.6},{"t":4.55,"y":4.5},{"t":4.57,"y":4.1},{"t":4.6,"y":4.6},{"t":4.63,"y":4.4},{"t":4.66,"y":5.1},{"t":4.69,"y":5.0},{"t":4.71,"y":5.7},{"t":4.72,"y":7.2},{"t":4.75,"y":7.0},{"t":4.78,"y":7.3},{"t":4.8,"y":6.9},{"t":4.82,"y":7.2},{"t":4.83,"y":5.7},{"t":4.84,"y":6.9},{"t":4.87,"y":7.5},{"t":4.9,"y":7.9},{"t":4.93,"y":8.4},{"t":4.96,"y":8.8},{"t":5.0,"y":9.3},{"t":5.03,"y":9.7},{"t":5.06,"y":10.3},{"t":5.09,"y":10.8},{"t":5.12,"y":11.5},{"t":5.15,"y":12.0},{"t":5.18,"y":12.5},{"t":5.2,"y":12.9},{"t":5.21,"y":13.6},{"t":5.23,"y":14.5},{"t":5.25,"y":15.6},{"t":5.27,"y":17}
    ],
    "g3": [
      {"t":0,"y":0},{"t":0.5,"y":0},{"t":1.0,"y":0.07},{"t":1.5,"y":0.25},{"t":2.0,"y":0.5},{"t":2.3,"y":0.62},{"t":2.6,"y":0.72},{"t":2.8,"y":0.75},{"t":2.9,"y":0.68},{"t":2.97,"y":0.45},{"t":3.02,"y":0.1},{"t":3.05,"y":-0.2},{"t":3.08,"y":0.15},{"t":3.13,"y":0.55},{"t":3.2,"y":0.68},{"t":3.27,"y":0.6},{"t":3.33,"y":0.35},{"t":3.36,"y":0.25},{"t":3.4,"y":0.45},{"t":3.47,"y":0.72},{"t":3.52,"y":0.62},{"t":3.56,"y":0.4},{"t":3.6,"y":0.62},{"t":3.66,"y":0.95},{"t":3.71,"y":0.85},{"t":3.75,"y":1.15},{"t":3.8,"y":0.95},{"t":3.84,"y":1.35},
      {"t":3.88,"y":1.57},{"t":3.92,"y":1.09},{"t":3.96,"y":1.47},{"t":4.0,"y":1.05},{"t":4.04,"y":1.62},{"t":4.08,"y":1.29},{"t":4.12,"y":1.72},{"t":4.16,"y":1.24},{"t":4.2,"y":1.69},{"t":4.24,"y":1.24},{"t":4.28,"y":1.78},{"t":4.32,"y":1.46},{"t":4.36,"y":1.94},{"t":4.4,"y":1.46},{"t":4.44,"y":1.85},{"t":4.48,"y":1.44},{"t":4.52,"y":2.0},{"t":4.56,"y":1.66},{"t":4.6,"y":2.07},{"t":4.64,"y":1.58},{"t":4.68,"y":2.02},{"t":4.72,"y":1.56},{"t":4.76,"y":2.09},{"t":4.8,"y":1.75},{"t":4.84,"y":2.22},{"t":4.88,"y":1.73},{"t":4.91,"y":0.95},{"t":4.94,"y":2.12},{"t":4.98,"y":1.69},{"t":5.02,"y":2.27},{"t":5.06,"y":1.92},{"t":5.1,"y":2.38},{"t":5.14,"y":1.87},{"t":5.18,"y":2.36},{"t":5.22,"y":1.85},{"t":5.26,"y":2.48},{"t":5.3,"y":2.08},{"t":5.34,"y":2.68},{"t":5.38,"y":2.04},{"t":5.42,"y":2.61},{"t":5.46,"y":2.01},{"t":5.5,"y":2.77},{"t":5.54,"y":2.3},{"t":5.58,"y":2.86},{"t":5.62,"y":3.3},{"t":5.64,"y":2.16},{"t":5.68,"y":2.79},{"t":5.72,"y":2.11},{"t":5.76,"y":2.86},{"t":5.8,"y":2.35},{"t":5.84,"y":2.98},{"t":5.88,"y":2.25},{"t":5.92,"y":2.9},{"t":5.96,"y":2.24},{"t":5.98,"y":3.3},{"t":6.0,"y":2.7}
    ],
    "b3": [
      {"t":0,"y":0},{"t":0.5,"y":0},{"t":1.0,"y":0.04},{"t":1.5,"y":0.18},{"t":2.0,"y":0.42},{"t":2.3,"y":0.52},{"t":2.6,"y":0.57},{"t":2.8,"y":0.57},{"t":2.9,"y":0.5},{"t":2.97,"y":0.3},{"t":3.02,"y":0.0},{"t":3.05,"y":-0.12},{"t":3.08,"y":0.1},{"t":3.13,"y":0.35},{"t":3.2,"y":0.45},{"t":3.27,"y":0.4},{"t":3.33,"y":0.2},{"t":3.36,"y":0.0},{"t":3.39,"y":0.25},{"t":3.45,"y":0.38},{"t":3.52,"y":0.4},{"t":3.6,"y":0.4},{"t":3.68,"y":0.35},{"t":3.74,"y":0.2},{"t":3.78,"y":-0.02},{"t":3.81,"y":0.3},{"t":3.85,"y":0.55},
      {"t":3.88,"y":0.8},{"t":3.92,"y":0.49},{"t":3.96,"y":0.88},{"t":4.0,"y":0.63},{"t":4.04,"y":1.08},{"t":4.08,"y":0.74},{"t":4.12,"y":1.13},{"t":4.16,"y":0.7},{"t":4.2,"y":1.09},{"t":4.24,"y":0.78},{"t":4.28,"y":1.29},{"t":4.32,"y":0.9},{"t":4.36,"y":1.31},{"t":4.4,"y":0.92},{"t":4.44,"y":1.32},{"t":4.48,"y":0.9},{"t":4.52,"y":1.36},{"t":4.56,"y":1.0},{"t":4.6,"y":1.58},{"t":4.64,"y":1.16},{"t":4.68,"y":1.6},{"t":4.72,"y":1.19},{"t":4.76,"y":1.74},{"t":4.8,"y":1.32},{"t":4.84,"y":1.78},{"t":4.88,"y":1.27},{"t":4.92,"y":1.73},{"t":4.96,"y":1.38},{"t":5.0,"y":1.95},{"t":5.04,"y":1.5},{"t":5.08,"y":1.94},{"t":5.12,"y":1.43},{"t":5.16,"y":1.94},{"t":5.2,"y":1.58},{"t":5.24,"y":2.12},{"t":5.28,"y":1.69},{"t":5.32,"y":2.14},{"t":5.36,"y":1.63},{"t":5.4,"y":2.08},{"t":5.44,"y":1.72},{"t":5.48,"y":2.28},{"t":5.52,"y":1.84},{"t":5.56,"y":2.29},{"t":5.6,"y":1.79},{"t":5.64,"y":2.31},{"t":5.68,"y":1.95},{"t":5.72,"y":2.5},{"t":5.76,"y":2.08},{"t":5.8,"y":2.54},{"t":5.84,"y":2.04},{"t":5.88,"y":2.49},{"t":5.92,"y":2.14},{"t":5.96,"y":2.71},{"t":6.0,"y":2.35}
    ],
    "h3": [{"t": 0, "y": 0}]
  },
  "hconcat": [
    {
      "width": 268,
      "height": 265,
      "resolve": {"axis": {"x": "independent", "y": "independent"}},
      "layer": [
        {
          "data": {"name": "sea"},
          "mark": {"type": "point", "filled": true, "size": 3, "opacity": 0.85},
          "encoding": {
            "x": {"field": "r", "type": "quantitative", "scale": {"domain": [2, 66], "nice": false, "zero": false},
                  "axis": {"orient": "bottom", "values": [10, 20, 30, 40, 50, 60], "format": "d", "ticks": false, "labelPadding": 10, "title": "r", "titleFontStyle": "italic", "titleFontSize": 22, "titlePadding": 4}},
            "y": {"field": "v", "type": "quantitative", "scale": {"domain": [-0.25, 0.3], "nice": false, "zero": false},
                  "axis": {"orient": "left", "values": [-0.2, -0.1, 0, 0.1, 0.2, 0.3], "format": ".1f", "ticks": false, "labelPadding": 5, "title": "ṙ", "titleFontStyle": "italic", "titleFontSize": 22, "titlePadding": 17}},
            "color": {
              "datum": "r(0) = 7.5",
              "type": "nominal",
              "scale": {"domain": ["r(0) = 7.5", "r(0) = 11.0", "r(0) = 14.0"], "range": ["#000000", "#22e822", "#1515ee"]},
              "legend": {
                "title": null,
                "orient": "none",
                "legendX": 144,
                "legendY": 8,
                "padding": 7,
                "fillColor": "#f3f7fe",
                "strokeColor": "#bfc3cb",
                "cornerRadius": 4,
                "symbolType": "circle",
                "symbolSize": 12,
                "symbolStrokeWidth": 0,
                "labelFont": "Liberation Serif",
                "labelFontSize": 18,
                "labelOffset": 8,
                "rowPadding": 9,
                "encode": {
                  "labels": {"update": {"fill": {"signal": "datum.value === 'r(0) = 11.0' ? '#33ee33' : datum.value === 'r(0) = 14.0' ? '#3535ff' : '#000000'"}}}
                }
              }
            }
          }
        },
        {
          "data": {"name": "zero"},
          "mark": {"type": "rule", "color": "#5a5a5a", "strokeWidth": 1.6},
          "encoding": {
            "y": {"field": "v", "type": "quantitative", "scale": {"domain": [-0.25, 0.3], "nice": false, "zero": false}, "axis": null}
          }
        },
        {
          "data": {"name": "isl"},
          "mark": {"type": "line", "interpolate": "cardinal-closed", "color": "#22e822", "strokeWidth": 1.8},
          "encoding": {
            "x": {"field": "r", "type": "quantitative", "scale": {"domain": [2, 66], "nice": false, "zero": false},
                  "axis": {"orient": "bottom", "values": [10, 20, 30, 40, 50, 60], "labels": false, "tickSize": -6, "title": null}},
            "y": {"field": "v", "type": "quantitative", "scale": {"domain": [-0.25, 0.3], "nice": false, "zero": false},
                  "axis": {"orient": "left", "values": [-0.2, -0.1, 0, 0.1, 0.2, 0.3], "labels": false, "tickSize": -6, "title": null}},
            "detail": {"field": "k"},
            "order": {"value": null}
          }
        },
        {
          "data": {"name": "ell"},
          "mark": {"type": "line", "interpolate": "cardinal-closed", "color": "#1515ee", "strokeWidth": 2},
          "encoding": {
            "x": {"field": "r", "type": "quantitative", "scale": {"domain": [2, 66], "nice": false, "zero": false},
                  "axis": {"orient": "bottom", "values": [2, 4, 6, 8, 12, 14, 16, 18, 22, 24, 26, 28, 32, 34, 36, 38, 42, 44, 46, 48, 52, 54, 56, 58, 62, 64, 66], "labels": false, "tickSize": -3.5, "title": null}},
            "y": {"field": "v", "type": "quantitative", "scale": {"domain": [-0.25, 0.3], "nice": false, "zero": false},
                  "axis": {"orient": "left", "values": [-0.24, -0.22, -0.18, -0.16, -0.14, -0.12, -0.08, -0.06, -0.04, -0.02, 0.02, 0.04, 0.06, 0.08, 0.12, 0.14, 0.16, 0.18, 0.22, 0.24, 0.26, 0.28], "labels": false, "tickSize": -3.5, "title": null}},
            "order": {"value": null}
          }
        },
        {
          "data": {"name": "h1"},
          "mark": {"type": "point", "opacity": 0},
          "encoding": {
            "x": {"field": "r", "type": "quantitative", "scale": {"domain": [2, 66], "nice": false, "zero": false},
                  "axis": {"orient": "top", "values": [10, 20, 30, 40, 50, 60], "labels": false, "tickSize": -6, "title": null}},
            "y": {"field": "v", "type": "quantitative", "scale": {"domain": [-0.25, 0.3], "nice": false, "zero": false},
                  "axis": {"orient": "right", "values": [-0.2, -0.1, 0, 0.1, 0.2, 0.3], "labels": false, "tickSize": -6, "title": null}}
          }
        },
        {
          "data": {"name": "h1"},
          "mark": {"type": "point", "opacity": 0},
          "encoding": {
            "x": {"field": "r", "type": "quantitative", "scale": {"domain": [2, 66], "nice": false, "zero": false},
                  "axis": {"orient": "top", "values": [2, 4, 6, 8, 12, 14, 16, 18, 22, 24, 26, 28, 32, 34, 36, 38, 42, 44, 46, 48, 52, 54, 56, 58, 62, 64, 66], "labels": false, "tickSize": -3.5, "title": null}},
            "y": {"field": "v", "type": "quantitative", "scale": {"domain": [-0.25, 0.3], "nice": false, "zero": false},
                  "axis": {"orient": "right", "values": [-0.24, -0.22, -0.18, -0.16, -0.14, -0.12, -0.08, -0.06, -0.04, -0.02, 0.02, 0.04, 0.06, 0.08, 0.12, 0.14, 0.16, 0.18, 0.22, 0.24, 0.26, 0.28], "labels": false, "tickSize": -3.5, "title": null}}
          }
        }
      ]
    },
    {
      "width": 262,
      "height": 263,
      "resolve": {"axis": {"x": "independent", "y": "independent"}},
      "layer": [
        {
          "data": {"name": "k2"},
          "mark": {"type": "line", "color": "#000000", "strokeWidth": 1},
          "encoding": {
            "x": {"field": "t", "type": "quantitative", "scale": {"domain": [1, 6], "nice": false, "zero": false},
                  "axis": {"orient": "bottom", "values": [1, 2, 3, 4, 5, 6], "format": "d", "ticks": false, "grid": true, "labelPadding": 9, "title": "log₁₀ τ", "titlePadding": 4}},
            "y": {"field": "y", "type": "quantitative", "scale": {"domain": [-6, 0], "nice": false, "zero": false},
                  "axis": {"orient": "left", "values": [-6, -5, -4, -3, -2, -1, 0], "format": "d", "ticks": false, "grid": true, "labelPadding": 8, "title": "log₁₀ λ(τ)", "titlePadding": 14}}
          }
        },
        {
          "data": {"name": "g2"},
          "mark": {"type": "line", "color": "#22e822", "strokeWidth": 1},
          "encoding": {
            "x": {"field": "t", "type": "quantitative", "scale": {"domain": [1, 6], "nice": false, "zero": false},
                  "axis": {"orient": "bottom", "values": [1, 2, 3, 4, 5, 6], "labels": false, "tickSize": -6, "title": null}},
            "y": {"field": "y", "type": "quantitative", "scale": {"domain": [-6, 0], "nice": false, "zero": false},
                  "axis": {"orient": "left", "values": [-6, -5, -4, -3, -2, -1, 0], "labels": false, "tickSize": -6, "title": null}}
          }
        },
        {
          "data": {"name": "b2"},
          "mark": {"type": "line", "color": "#1515ee", "strokeWidth": 1},
          "encoding": {
            "x": {"field": "t", "type": "quantitative", "scale": {"domain": [1, 6], "nice": false, "zero": false},
                  "axis": {"orient": "bottom", "values": [1.2, 1.4, 1.6, 1.8, 2.2, 2.4, 2.6, 2.8, 3.2, 3.4, 3.6, 3.8, 4.2, 4.4, 4.6, 4.8, 5.2, 5.4, 5.6, 5.8], "labels": false, "tickSize": -3.5, "title": null}},
            "y": {"field": "y", "type": "quantitative", "scale": {"domain": [-6, 0], "nice": false, "zero": false},
                  "axis": {"orient": "left", "values": [-5.8, -5.6, -5.4, -5.2, -4.8, -4.6, -4.4, -4.2, -3.8, -3.6, -3.4, -3.2, -2.8, -2.6, -2.4, -2.2, -1.8, -1.6, -1.4, -1.2, -0.8, -0.6, -0.4, -0.2], "labels": false, "tickSize": -3.5, "title": null}}
          }
        },
        {
          "data": {"name": "h2"},
          "mark": {"type": "point", "opacity": 0},
          "encoding": {
            "x": {"field": "t", "type": "quantitative", "scale": {"domain": [1, 6], "nice": false, "zero": false},
                  "axis": {"orient": "top", "values": [1, 2, 3, 4, 5, 6], "labels": false, "tickSize": -6, "title": null}},
            "y": {"field": "y", "type": "quantitative", "scale": {"domain": [-6, 0], "nice": false, "zero": false},
                  "axis": {"orient": "right", "values": [-6, -5, -4, -3, -2, -1, 0], "labels": false, "tickSize": -6, "title": null}}
          }
        },
        {
          "data": {"name": "h2"},
          "mark": {"type": "point", "opacity": 0},
          "encoding": {
            "x": {"field": "t", "type": "quantitative", "scale": {"domain": [1, 6], "nice": false, "zero": false},
                  "axis": {"orient": "top", "values": [1.2, 1.4, 1.6, 1.8, 2.2, 2.4, 2.6, 2.8, 3.2, 3.4, 3.6, 3.8, 4.2, 4.4, 4.6, 4.8, 5.2, 5.4, 5.6, 5.8], "labels": false, "tickSize": -3.5, "title": null}},
            "y": {"field": "y", "type": "quantitative", "scale": {"domain": [-6, 0], "nice": false, "zero": false},
                  "axis": {"orient": "right", "values": [-5.8, -5.6, -5.4, -5.2, -4.8, -4.6, -4.4, -4.2, -3.8, -3.6, -3.4, -3.2, -2.8, -2.6, -2.4, -2.2, -1.8, -1.6, -1.4, -1.2, -0.8, -0.6, -0.4, -0.2], "labels": false, "tickSize": -3.5, "title": null}}
          }
        }
      ]
    },
    {
      "width": 266,
      "height": 265,
      "resolve": {"axis": {"x": "independent", "y": "independent"}},
      "layer": [
        {
          "data": {"name": "h3"},
          "mark": {"type": "point", "opacity": 0},
          "encoding": {
            "x": {"field": "t", "type": "quantitative", "scale": {"domain": [0, 6], "nice": false, "zero": false}, "axis": null},
            "y": {"field": "y", "type": "quantitative", "scale": {"domain": [-1, 15], "nice": false, "zero": false},
                  "axis": {"orient": "left", "values": [3, 6, 9, 12], "labels": false, "ticks": false, "grid": true, "title": null}}
          }
        },
        {
          "data": {"name": "k3"},
          "mark": {"type": "line", "color": "#000000", "strokeWidth": 1, "clip": true},
          "encoding": {
            "x": {"field": "t", "type": "quantitative", "scale": {"domain": [0, 6], "nice": false, "zero": false},
                  "axis": {"orient": "bottom", "values": [0, 1, 2, 3, 4, 5, 6], "format": "d", "ticks": false, "grid": true, "labelPadding": 9, "title": "log₁₀ τ", "titlePadding": 4}},
            "y": {"field": "y", "type": "quantitative", "scale": {"domain": [-1, 15], "nice": false, "zero": false},
                  "axis": {"orient": "left", "values": [0, 5, 10, 15], "format": "d", "ticks": false, "labelPadding": 9, "title": "FLI(τ)", "titlePadding": 22}}
          }
        },
        {
          "data": {"name": "g3"},
          "mark": {"type": "line", "color": "#22e822", "strokeWidth": 1, "clip": true},
          "encoding": {
            "x": {"field": "t", "type": "quantitative", "scale": {"domain": [0, 6], "nice": false, "zero": false},
                  "axis": {"orient": "bottom", "values": [0, 1, 2, 3, 4, 5, 6], "labels": false, "tickSize": -6, "title": null}},
            "y": {"field": "y", "type": "quantitative", "scale": {"domain": [-1, 15], "nice": false, "zero": false},
                  "axis": {"orient": "left", "values": [0, 5, 10, 15], "labels": false, "tickSize": -6, "title": null}}
          }
        },
        {
          "data": {"name": "b3"},
          "mark": {"type": "line", "color": "#1515ee", "strokeWidth": 1, "clip": true},
          "encoding": {
            "x": {"field": "t", "type": "quantitative", "scale": {"domain": [0, 6], "nice": false, "zero": false},
                  "axis": {"orient": "bottom", "values": [0.2, 0.4, 0.6, 0.8, 1.2, 1.4, 1.6, 1.8, 2.2, 2.4, 2.6, 2.8, 3.2, 3.4, 3.6, 3.8, 4.2, 4.4, 4.6, 4.8, 5.2, 5.4, 5.6, 5.8], "labels": false, "tickSize": -3.5, "title": null}},
            "y": {"field": "y", "type": "quantitative", "scale": {"domain": [-1, 15], "nice": false, "zero": false},
                  "axis": {"orient": "left", "values": [-1, 1, 2, 3, 4, 6, 7, 8, 9, 11, 12, 13, 14], "labels": false, "tickSize": -3.5, "title": null}}
          }
        },
        {
          "data": {"name": "h3"},
          "mark": {"type": "point", "opacity": 0},
          "encoding": {
            "x": {"field": "t", "type": "quantitative", "scale": {"domain": [0, 6], "nice": false, "zero": false},
                  "axis": {"orient": "top", "values": [0, 1, 2, 3, 4, 5, 6], "labels": false, "tickSize": -6, "title": null}},
            "y": {"field": "y", "type": "quantitative", "scale": {"domain": [-1, 15], "nice": false, "zero": false},
                  "axis": {"orient": "right", "values": [0, 5, 10, 15], "labels": false, "tickSize": -6, "title": null}}
          }
        },
        {
          "data": {"name": "h3"},
          "mark": {"type": "point", "opacity": 0},
          "encoding": {
            "x": {"field": "t", "type": "quantitative", "scale": {"domain": [0, 6], "nice": false, "zero": false},
                  "axis": {"orient": "top", "values": [0.2, 0.4, 0.6, 0.8, 1.2, 1.4, 1.6, 1.8, 2.2, 2.4, 2.6, 2.8, 3.2, 3.4, 3.6, 3.8, 4.2, 4.4, 4.6, 4.8, 5.2, 5.4, 5.6, 5.8], "labels": false, "tickSize": -3.5, "title": null}},
            "y": {"field": "y", "type": "quantitative", "scale": {"domain": [-1, 15], "nice": false, "zero": false},
                  "axis": {"orient": "right", "values": [-1, 1, 2, 3, 4, 6, 7, 8, 9, 11, 12, 13, 14], "labels": false, "tickSize": -3.5, "title": null}}
          }
        }
      ]
    }
  ],
  "spacing": 70,
  "bounds": "flush"
}
